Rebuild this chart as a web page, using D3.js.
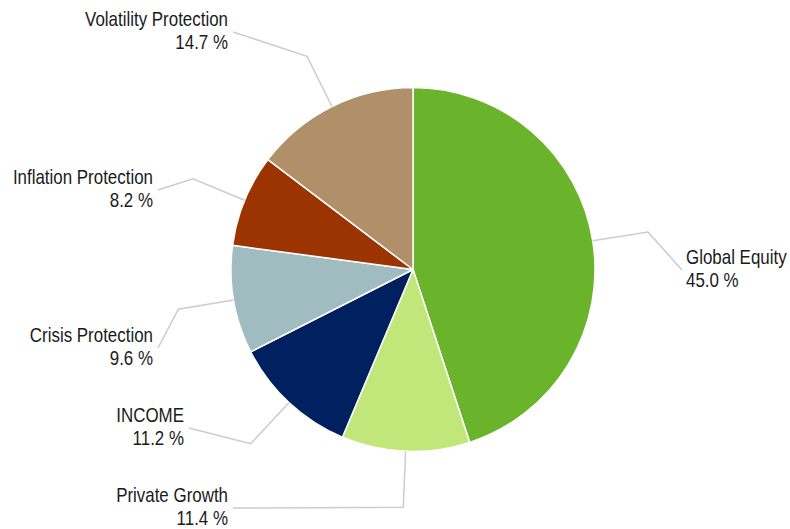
<!DOCTYPE html>
<html>
<head>
<meta charset="utf-8">
<script src="https://cdn.jsdelivr.net/npm/d3@7"></script>
<style>
html,body{margin:0;padding:0;background:#fff;}
svg{display:block;}
</style>
</head>
<body>
<svg id="chart" width="790" height="529"></svg>
<script>
// ---- data ----
const categories = ["Global Equity","Private Growth","INCOME","Crisis Protection","Inflation Protection","Volatility Protection"];
const values = [45.0, 11.4, 11.2, 9.6, 8.2, 14.7];
const colors = ["#6ab42c","#c1e67a","#002060","#a1bcc0","#9b3400","#b09069"];

// ---- layout (label anchor = end point of leader line) ----
const labelAnchors = [
  {x:682, y:270, side:"right"},
  {x:233, y:508, side:"left"},
  {x:189, y:428, side:"left"},
  {x:158, y:348, side:"left"},
  {x:158, y:190, side:"left"},
  {x:233, y:32,  side:"left"}
];

const cx = 413, cy = 269.5, R = 182, elbowR = 238;
const fontFamily = "'Liberation Sans', Arial, sans-serif";

const svg = d3.select("#chart");

// calibrate horizontal scale so text width matches a narrow sans
const probe = svg.append("text").attr("font-family", fontFamily).attr("font-size", 20).text("Volatility Protection");
const w = probe.node().getComputedTextLength();
probe.remove();
const sx = 143 / w;

const g = svg.append("g").attr("transform", `translate(${cx},${cy})`);

const pie = d3.pie().sort(null).value(d => d)(values);
const arc = d3.arc().innerRadius(0).outerRadius(R);

g.selectAll("path.slice").data(pie).enter().append("path")
  .attr("class","slice")
  .attr("d", arc)
  .attr("fill", (d,i) => colors[i])
  .attr("stroke", "#fff")
  .attr("stroke-width", 1.5)
  .attr("stroke-linejoin","round");

// leader lines
pie.forEach((d,i) => {
  const a = (d.startAngle + d.endAngle)/2;
  const p0 = [cx + R*Math.sin(a), cy - R*Math.cos(a)];
  const p1 = [cx + elbowR*Math.sin(a), cy - elbowR*Math.cos(a)];
  const p2 = [labelAnchors[i].x, labelAnchors[i].y];
  svg.append("polyline")
    .attr("points", [p0,p1,p2].map(p => p.join(",")).join(" "))
    .attr("fill","none")
    .attr("stroke","#cccccc")
    .attr("stroke-width",1.5);
});

// labels
pie.forEach((d,i) => {
  const an = labelAnchors[i];
  const right = an.side === "left";
  const tx = right ? an.x - 5 : an.x + 4;
  const ty = an.y - 6;
  const t = svg.append("g").attr("transform", `translate(${tx},${ty}) scale(${sx},1)`);
  const lines = [categories[i], values[i].toFixed(1) + " %"];
  lines.forEach((s,k) => {
    t.append("text")
      .attr("x",0).attr("y", k*23.5)
      .attr("text-anchor", right ? "end" : "start")
      .attr("font-family", fontFamily)
      .attr("font-size", 20)
      .attr("fill","#1a1a1a")
      .text(s);
  });
});
</script>
</body>
</html>
